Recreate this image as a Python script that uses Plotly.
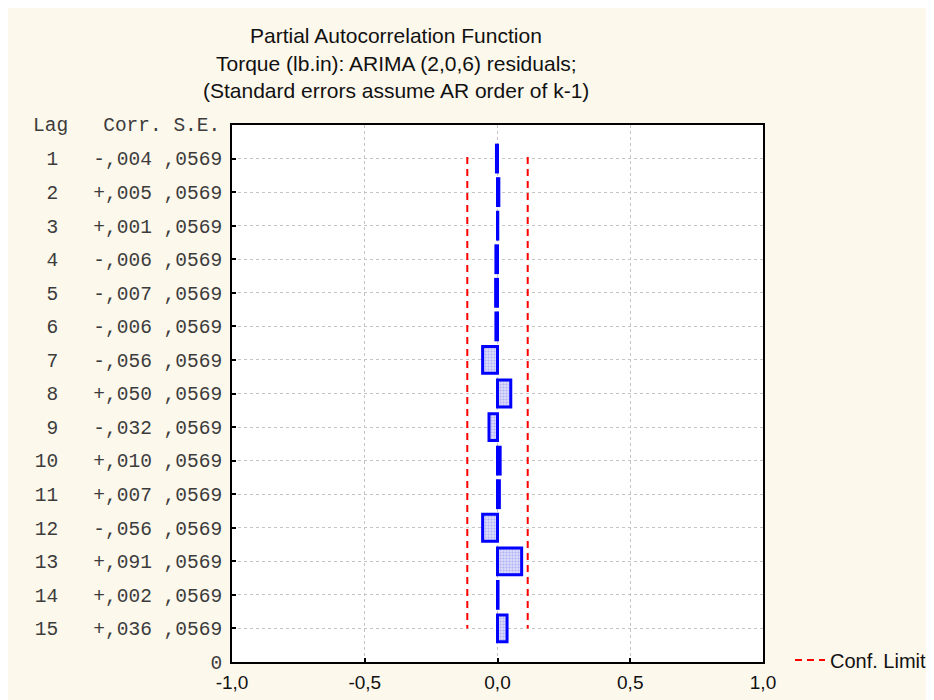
import plotly.graph_objects as go

# ---- data ----
lags = list(range(1, 16))
corr = [-0.004, 0.005, 0.001, -0.006, -0.007, -0.006, -0.056, 0.050,
        -0.032, 0.010, 0.007, -0.056, 0.091, 0.002, 0.036]
se = [0.0569] * 15
x_tick_vals = [-1.0, -0.5, 0.0, 0.5, 1.0]
x_tick_text = ["-1,0", "-0,5", "0,0", "0,5", "1,0"]
title_lines = ["Partial Autocorrelation Function",
               "Torque (lb.in): ARIMA (2,0,6) residuals;",
               "(Standard errors assume AR order of k-1)"]
conf_mult = 2.0

NB = "\u00a0"

def fmt_corr(v):
    s = "+" if v >= 0 else "-"
    return s + "," + f"{abs(v):.3f}"[2:]

def fmt_se(v):
    return "," + f"{v:.4f}"[2:]

ticktext = [f"{l:>2}   {fmt_corr(c)} {fmt_se(s)}".replace(" ", NB)
            for l, c, s in zip(lags, corr, se)] + ["0"]
tickvals = lags + [16]

# figure is placed at (8,8) in the page by the body margin
W, H = 926, 692
L, R, T, B = 224, 755, 117, 654

def px2paper_x(px):
    return (px - L) / (R - L)

def px2paper_y(py):
    return (B - py) / (B - T)

fig = go.Figure()

fig.add_trace(go.Bar(
    y=lags, x=corr, orientation="h", width=0.8,
    marker=dict(color="#c8c8f4",
                line=dict(color="#0000ff", width=3),
                pattern=dict(shape=".", fgcolor="#8a8af0", bgcolor="#e4e4fc",
                             size=3, solidity=0.5)),
    showlegend=False, hoverinfo="skip"))

conf = conf_mult * se[0]
for i, sgn in enumerate([-1, 1]):
    fig.add_trace(go.Scatter(
        x=[sgn * conf, sgn * conf], y=[lags[0] - 0.05, lags[-1]],
        mode="lines", line=dict(color="#ff0000", width=2, dash="7px,5px"),
        name="Conf. Limit", showlegend=(i == 0), hoverinfo="skip"))

mono = "Liberation Mono"
sans = "Liberation Sans"
mono_col = "#3c3c3c"

annotations = []
for i, line in enumerate(title_lines):
    annotations.append(dict(
        text=line, xref="paper", yref="paper",
        x=px2paper_x(388), y=px2paper_y(27 + 28 * i),
        xanchor="center", yanchor="middle", showarrow=False,
        font=dict(family=sans, size=21, color="#111111")))
annotations.append(dict(
    text="Lag   Corr. S.E.".replace(" ", NB), xref="paper", yref="paper",
    x=px2paper_x(214), y=px2paper_y(118), xanchor="right", yanchor="middle",
    showarrow=False, font=dict(family=mono, size=19.5, color=mono_col)))

fig.update_layout(
    width=W, height=H,
    margin=dict(l=L, r=W - R, t=T, b=H - B, pad=0, autoexpand=False),
    paper_bgcolor="#fdf8ec", plot_bgcolor="white",
    bargap=0.2,
    annotations=annotations,
    legend=dict(x=px2paper_x(782), y=px2paper_y(652), xanchor="left",
                yanchor="middle", bgcolor="rgba(0,0,0,0)",
                font=dict(family=sans, size=20, color="#111111"),
                itemwidth=30),
    xaxis=dict(range=[-1, 1], tickvals=x_tick_vals, ticktext=x_tick_text,
               showgrid=True, gridcolor="#c4c4c4", griddash="dot", gridwidth=1,
               zeroline=False, showline=True, mirror=True, linecolor="black",
               linewidth=2, ticks="inside", ticklen=4, tickcolor="black",
               tickwidth=2, ticklabelstandoff=2,
               tickfont=dict(family=sans, size=19, color="#111111")),
    yaxis=dict(range=[16, 0], tickvals=tickvals, ticktext=ticktext,
               showgrid=True, gridcolor="#c4c4c4", griddash="dot", gridwidth=1,
               zeroline=False, showline=True, mirror=True, linecolor="black",
               linewidth=2, ticks="inside", ticklen=4, tickcolor="black",
               tickwidth=2, ticklabelstandoff=4,
               tickfont=dict(family=mono, size=19.5, color=mono_col)),
)

fig.write_html("out.html")
